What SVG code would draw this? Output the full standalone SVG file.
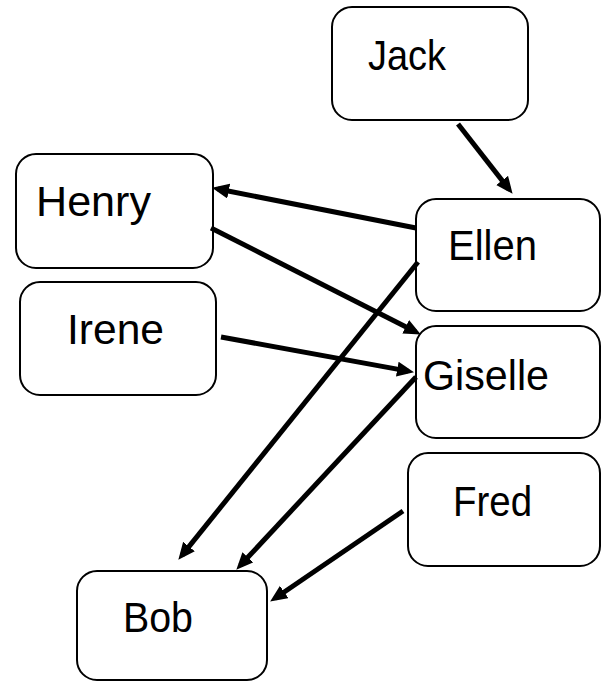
<svg xmlns="http://www.w3.org/2000/svg" width="601" height="682" viewBox="0 0 601 682">
<defs>
<style>
.box{fill:#fff;stroke:#000;stroke-width:2}
.lbl{font-family:"Liberation Sans",Arial,sans-serif;font-size:42px;fill:#000}
.edge{stroke:#000;stroke-width:5;fill:none;marker-end:url(#ah)}
</style>
<marker id="ah" markerUnits="userSpaceOnUse" markerWidth="19" markerHeight="16" refX="11" refY="7.5" orient="auto">
<path d="M0,0 L17,7.5 L0,15 z" fill="#000"/>
</marker>
</defs>
<rect width="601" height="682" fill="#fff"/>
<g id="jack"><rect class="box" x="332" y="7" width="196" height="113" rx="20"/><text class="lbl" x="368" y="70" textLength="78" lengthAdjust="spacingAndGlyphs">Jack</text></g>
<g id="henry"><rect class="box" x="16" y="154" width="197" height="114" rx="20"/><text class="lbl" x="36" y="216" textLength="115" lengthAdjust="spacingAndGlyphs">Henry</text></g>
<g id="irene"><rect class="box" x="20" y="282" width="196" height="113" rx="20"/><text class="lbl" x="67" y="344" textLength="97" lengthAdjust="spacingAndGlyphs">Irene</text></g>
<g id="ellen"><rect class="box" x="416" y="199" width="184" height="112" rx="20"/><text class="lbl" x="448" y="260" textLength="89" lengthAdjust="spacingAndGlyphs">Ellen</text></g>
<g id="giselle"><rect class="box" x="416" y="326" width="184" height="112" rx="20"/><text class="lbl" x="423" y="390" textLength="126" lengthAdjust="spacingAndGlyphs">Giselle</text></g>
<g id="fred"><rect class="box" x="408" y="453" width="192" height="113" rx="20"/><text class="lbl" x="453" y="516" textLength="79" lengthAdjust="spacingAndGlyphs">Fred</text></g>
<g id="bob"><rect class="box" x="77" y="571" width="190" height="109" rx="20"/><text class="lbl" x="123" y="632" textLength="70" lengthAdjust="spacingAndGlyphs">Bob</text></g>
<g id="connectors">
<line class="edge" x1="458" y1="124" x2="508.9" y2="189.1"/>
<line class="edge" x1="416" y1="228" x2="217.9" y2="189"/>
<line class="edge" x1="211" y1="228" x2="415.5" y2="331.7"/>
<line class="edge" x1="221" y1="337" x2="408.1" y2="371.1"/>
<line class="edge" x1="418" y1="262" x2="182.1" y2="555.1"/>
<line class="edge" x1="416" y1="377" x2="240.4" y2="565.3"/>
<line class="edge" x1="403" y1="511" x2="275.1" y2="598.2"/>
</g>
</svg>
